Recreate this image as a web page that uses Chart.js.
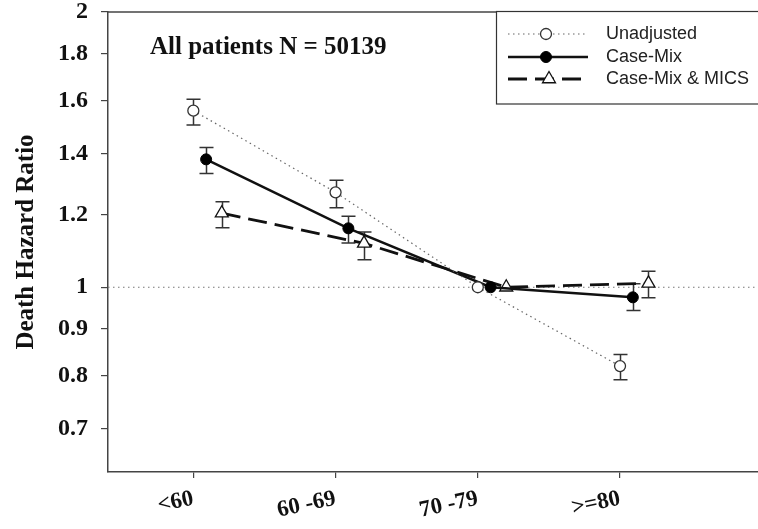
<!DOCTYPE html>
<html>
<head>
<meta charset="utf-8">
<script src="https://cdn.jsdelivr.net/npm/chart.js@4/dist/chart.umd.min.js"></script>
<style>
  html, body { margin: 0; padding: 0; background: #fff; }
</style>
</head>
<body>
<canvas id="myChart" width="758" height="529"></canvas>
<script>
// age groups and hazard ratios
const ageGroups = ['<60', '60 -69', '70 -79', '>=80'];
const yTicks = [0.7, 0.8, 0.9, 1, 1.2, 1.4, 1.6, 1.8, 2];

const unadjusted = [1.56, 1.27, 1.00, 0.82];
const unadjustedLow = [1.505, 1.222, 1.00, 0.792];
const unadjustedHigh = [1.605, 1.309, 1.00, 0.844];

const caseMix = [1.38, 1.16, 1.00, 0.975];
const caseMixLow = [1.332, 1.118, 1.00, 0.943];
const caseMixHigh = [1.422, 1.196, 1.00, 1.009];

const caseMixMics = [1.205, 1.117, 1.00, 1.01];
const caseMixMicsLow = [1.162, 1.072, 1.00, 0.974];
const caseMixMicsHigh = [1.24, 1.149, 1.00, 1.041];

const ctx = document.getElementById('myChart').getContext('2d');
const serif = '"Liberation Serif", "Times New Roman", serif';
const sans = '"Liberation Sans", Arial, sans-serif';

// small horizontal dodge so the three series don't sit on top of each other
const toPoints = (vals, shift) => vals.map((v, i) => ({ x: i + 1 + shift, y: v }));

const errorBars = {
  id: 'errorBars',
  beforeDatasetsDraw(chart) {
    const { ctx, chartArea, scales: { x, y } } = chart;
    // dotted reference line at HR = 1
    ctx.save();
    ctx.strokeStyle = '#777';
    ctx.lineWidth = 1;
    ctx.setLineDash([1.5, 3.5]);
    ctx.beginPath();
    ctx.moveTo(chartArea.left, y.getPixelForValue(1));
    ctx.lineTo(chartArea.right, y.getPixelForValue(1));
    ctx.stroke();
    ctx.setLineDash([]);

    ctx.strokeStyle = '#333';
    ctx.lineWidth = 1.5;
    chart.data.datasets.forEach(ds => {
      ds.data.forEach((p, i) => {
        if (ds.low[i] === ds.high[i]) return;
        const px = Math.round(x.getPixelForValue(p.x)) + 0.5;
        const top = y.getPixelForValue(ds.high[i]);
        const bot = y.getPixelForValue(ds.low[i]);
        ctx.beginPath();
        ctx.moveTo(px, top); ctx.lineTo(px, bot);
        ctx.moveTo(px - 7, top); ctx.lineTo(px + 7, top);
        ctx.moveTo(px - 7, bot); ctx.lineTo(px + 7, bot);
        ctx.stroke();
      });
    });
    ctx.restore();
  },
  afterDraw(chart) {
    const { ctx, chartArea } = chart;
    ctx.save();
    // top frame line
    ctx.strokeStyle = '#444';
    ctx.lineWidth = 1.5;
    ctx.beginPath();
    ctx.moveTo(chartArea.left, chartArea.top);
    ctx.lineTo(chartArea.right, chartArea.top);
    ctx.stroke();

    // panel title
    ctx.fillStyle = '#111';
    ctx.font = 'bold 25px ' + serif;
    ctx.textBaseline = 'middle';
    ctx.fillText('All patients N = 50139', 150, 48);

    // legend box
    ctx.fillStyle = '#fff';
    ctx.fillRect(496, 11, 270, 93);
    ctx.strokeStyle = '#333';
    ctx.lineWidth = 1.2;
    ctx.strokeRect(496.5, 11.5, 270, 92.5);
    const rows = [34, 57, 79];
    chart.data.datasets.forEach((ds, i) => {
      const ly = rows[i];
      const mx = ds.pointStyle === 'triangle' ? 549 : 546;
      ctx.strokeStyle = ds.borderColor;
      ctx.lineWidth = ds.borderWidth;
      ctx.setLineDash(ds.borderDash || []);
      ctx.beginPath();
      ctx.moveTo(508, ly); ctx.lineTo(588, ly);
      ctx.stroke();
      ctx.setLineDash([]);
      ctx.fillStyle = ds.pointBackgroundColor;
      ctx.strokeStyle = ds.pointBorderColor;
      ctx.lineWidth = ds.pointBorderWidth;
      ctx.beginPath();
      if (ds.pointStyle === 'triangle') {
        const r = ds.pointRadius;
        ctx.moveTo(mx, ly - r);
        ctx.lineTo(mx + r * 0.866, ly + r * 0.5);
        ctx.lineTo(mx - r * 0.866, ly + r * 0.5);
        ctx.closePath();
      } else {
        ctx.arc(mx, ly, ds.pointRadius, 0, Math.PI * 2);
      }
      ctx.fill(); ctx.stroke();
      ctx.fillStyle = '#222';
      ctx.font = '18px ' + sans;
      ctx.textBaseline = 'middle';
      ctx.fillText(ds.label, 606, ly);
    });
    ctx.restore();
  }
};

new Chart(ctx, {
  type: 'line',
  data: {
    datasets: [{
      label: 'Unadjusted',
      data: toPoints(unadjusted, 0),
      low: unadjustedLow, high: unadjustedHigh,
      borderColor: '#666', borderWidth: 1.2, borderDash: [1.5, 3.5],
      pointStyle: 'circle', pointRadius: 5.5,
      pointBackgroundColor: '#fff', pointBorderColor: '#333', pointBorderWidth: 1.3
    }, {
      label: 'Case-Mix',
      data: toPoints(caseMix, 0.09),
      low: caseMixLow, high: caseMixHigh,
      borderColor: '#111', borderWidth: 2.5,
      pointStyle: 'circle', pointRadius: 5.5,
      pointBackgroundColor: '#000', pointBorderColor: '#000', pointBorderWidth: 1
    }, {
      label: 'Case-Mix & MICS',
      data: toPoints(caseMixMics, 0.2),
      low: caseMixMicsLow, high: caseMixMicsHigh,
      borderColor: '#111', borderWidth: 2.8, borderDash: [19, 8],
      pointStyle: 'triangle', pointRadius: 7.5,
      pointBackgroundColor: '#fff', pointBorderColor: '#111', pointBorderWidth: 1.3
    }]
  },
  options: {
    responsive: false,
    animation: false,
    layout: { autoPadding: false, padding: { top: 12, left: 0, right: 0, bottom: 0 } },
    plugins: { legend: { display: false }, tooltip: { enabled: false } },
    scales: {
      x: {
        type: 'linear',
        min: 0.4, max: 4.97,
        bounds: 'data',
        afterBuildTicks: s => { s.ticks = ageGroups.map((g, i) => ({ value: i + 1 })); },
        afterFit: s => { s.height = 57; s.paddingLeft = 0; s.paddingRight = 0; },
        ticks: {
          autoSkip: false, minRotation: 12, maxRotation: 12,
          padding: 7, color: '#111',
          font: { family: serif, size: 23, weight: 'bold' },
          callback: v => ageGroups[Math.round(v) - 1]
        },
        grid: { display: true, drawOnChartArea: false, drawTicks: true, tickLength: 6, color: '#444', lineWidth: 1.2 },
        border: { color: '#444', width: 1.5 }
      },
      y: {
        type: 'logarithmic',
        min: 0.628, max: 2,
        bounds: 'data',
        afterBuildTicks: s => { s.ticks = yTicks.map(v => ({ value: v })); },
        afterFit: s => { s.width = 108; s.paddingTop = 0; s.paddingBottom = 0; },
        ticks: {
          padding: 13, color: '#111',
          font: { family: serif, size: 24, weight: 'bold', lineHeight: 1 },
          callback: v => String(v)
        },
        title: {
          display: true, text: 'Death Hazard Ratio', color: '#111',
          font: { family: serif, size: 25, weight: 'bold' },
          padding: { top: 12, bottom: 0 }
        },
        grid: { display: true, drawOnChartArea: false, drawTicks: true, tickLength: 7, color: '#444', lineWidth: 1.2 },
        border: { color: '#444', width: 1.5 }
      }
    }
  },
  plugins: [errorBars]
});
</script>
</body>
</html>
